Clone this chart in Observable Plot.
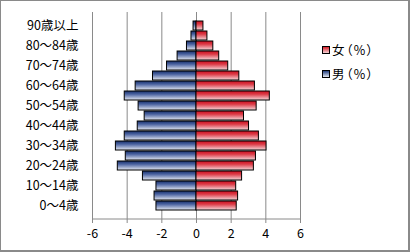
<!DOCTYPE html>
<html>
<head>
<meta charset="utf-8">
<script src="https://cdn.jsdelivr.net/npm/d3@7"></script>
<script src="https://cdn.jsdelivr.net/npm/@observablehq/plot@0.6"></script>
<style>
  html, body { margin: 0; padding: 0; background: #fff; }
  #wrap { position: relative; width: 410px; height: 252px; overflow: hidden; font-family: "Noto Sans CJK JP", sans-serif; }
  #border { position: absolute; left: 0; top: 0; width: 410px; height: 252px; box-sizing: border-box; border: 1px solid #8a8a8a; border-right-width: 2px; border-bottom-width: 2px; pointer-events: none; }
  .leg { position: absolute; left: 322px; font-size: 12.5px; line-height: 14px; color: #000; display: flex; align-items: center; white-space: nowrap; font-feature-settings: "palt"; letter-spacing: 1.5px; }
  .sw { width: 6px; height: 6px; border: 1px solid #000; margin-right: 2px; }
  svg text { font-feature-settings: "palt"; }
</style>
</head>
<body>
<div id="wrap">
  <div id="chart"></div>
  <div class="leg" style="top:43px"><div class="sw" style="background:linear-gradient(#d61f2a,#f4d3d6)"></div>女（%）</div>
  <div class="leg" style="top:67px"><div class="sw" style="background:linear-gradient(#233f7f,#e2e7f1)"></div>男（%）</div>
  <div id="border"></div>
</div>
<script>
const ages = ["0～4歳","5～9歳","10～14歳","15～19歳","20～24歳","25～29歳","30～34歳","35～39歳","40～44歳","45～49歳","50～54歳","55～59歳","60～64歳","65～69歳","70～74歳","75～79歳","80～84歳","85～89歳","90歳以上"];
const male   = [2.31, 2.42, 2.31, 3.09, 4.54, 4.08, 4.65, 4.14, 3.39, 2.99, 3.34, 4.14, 3.51, 2.51, 1.70, 1.09, 0.55, 0.29, 0.17];
const female = [2.32, 2.40, 2.29, 2.63, 3.31, 3.43, 4.04, 3.60, 3.03, 2.74, 3.47, 4.23, 3.37, 2.47, 1.83, 1.31, 0.97, 0.63, 0.40];
const xTicks = [-6, -4, -2, 0, 2, 4, 6];
const yLabels = ages.filter((d, i) => i % 2 === 0);
const grid = [-6, -4, -2, 2, 4, 6];

const maleData = ages.map((a, i) => ({age: a, v: -male[i]}));
const femaleData = ages.map((a, i) => ({age: a, v: female[i]}));

const defs = () => {
  const d = d3.create("svg:defs");
  const mk = (id, c1, c2, c3) => {
    const g = d.append("linearGradient").attr("id", id).attr("x1", 0).attr("y1", 0).attr("x2", 0).attr("y2", 1);
    g.append("stop").attr("offset", "0%").attr("stop-color", c1);
    g.append("stop").attr("offset", "35%").attr("stop-color", c2);
    g.append("stop").attr("offset", "100%").attr("stop-color", c3);
  };
  mk("gm", "#17306c", "#4a62a0", "#e4e8f2");
  mk("gf", "#cc1020", "#dc3a46", "#f6d8db");
  return d.node();
};

const bottomLine = (index, scales, values, dims) => {
  const g = d3.create("svg:g");
  g.append("line")
    .attr("x1", scales.x(-6)).attr("x2", scales.x(6))
    .attr("y1", dims.height - dims.marginBottom).attr("y2", dims.height - dims.marginBottom)
    .attr("stroke", "#8a8a8a");
  return g.node();
};

const chart = Plot.plot({
  width: 410,
  height: 252,
  marginLeft: 92,
  marginRight: 110,
  marginTop: 12,
  marginBottom: 33,
  style: {fontFamily: "'Noto Sans CJK JP', sans-serif", fontSize: "12px", color: "#000", background: "transparent"},
  x: {domain: [-6, 6]},
  y: {domain: ages.slice().reverse(), padding: 0.1},
  marks: [
    defs,
    Plot.ruleX(grid, {stroke: "#8a8a8a", strokeOpacity: 1}),
    Plot.ruleX([0], {stroke: "#8a8a8a", strokeOpacity: 1}),
    bottomLine,
    Plot.barX(maleData, {x1: 0, x2: "v", y: "age", fill: "url(#gm)", stroke: "#000", strokeWidth: 1}),
    Plot.barX(femaleData, {x1: 0, x2: "v", y: "age", fill: "url(#gf)", stroke: "#000", strokeWidth: 1}),
    Plot.axisX({ticks: xTicks, tickFormat: d => String(d), tickSize: 4, tickPadding: 6, stroke: "#8a8a8a", label: null, fontSize: 12.5}),
    Plot.axisY({ticks: yLabels, tickSize: 0, tickPadding: 14, label: null, fontSize: 12.5})
  ]
});
document.getElementById("chart").appendChild(chart);
</script>
</body>
</html>
